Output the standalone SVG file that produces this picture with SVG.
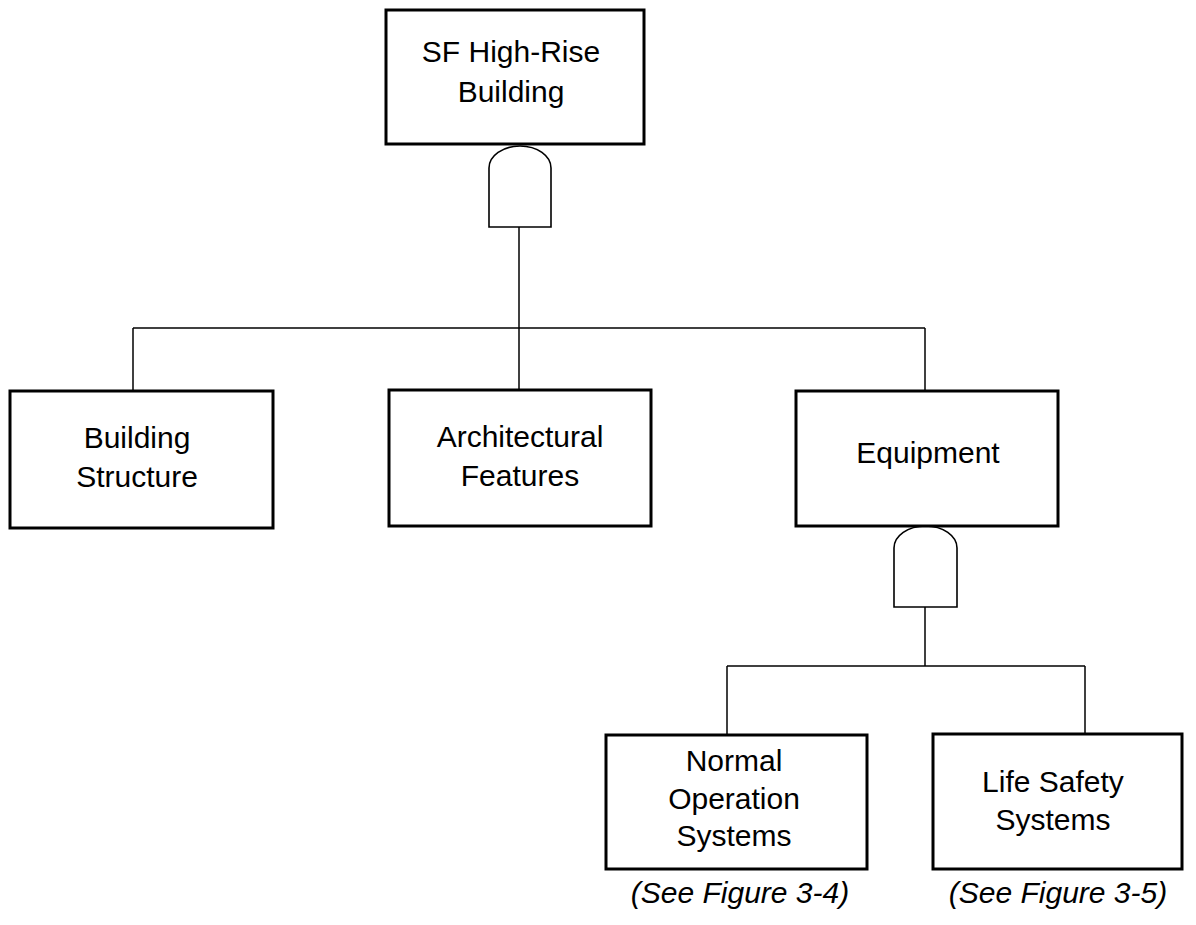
<svg xmlns="http://www.w3.org/2000/svg" width="1196" height="925" viewBox="0 0 1196 925">
<style>
.box{fill:#fff;stroke:#000;stroke-width:3}
.gate{fill:#fff;stroke:#000;stroke-width:1.6}
.wire{fill:none;stroke:#000;stroke-width:1.5}
text{font-family:"Liberation Sans",Arial,sans-serif;font-size:30px;fill:#000;text-anchor:middle}
.cap{font-style:italic}
</style>
<rect width="1196" height="925" fill="#fff"/>
<g id="connectors">
<path class="wire" d="M519,227 V389"/>
<path class="wire" d="M133,328 H925"/>
<path class="wire" d="M133,328 V390"/>
<path class="wire" d="M925,328 V391"/>
<path class="wire" d="M925,607 V666"/>
<path class="wire" d="M727,666 H1085"/>
<path class="wire" d="M727,666 V735"/>
<path class="wire" d="M1085,666 V733"/>
</g>
<g id="gate-top">
<path class="gate" d="M489,227 V168 A31,22 0 0 1 551,168 V227 Z"/>
</g>
<g id="gate-equipment">
<path class="gate" d="M894,607 V548 A31.5,22 0 0 1 957,548 V607 Z"/>
</g>
<g id="node-sf">
<rect class="box" x="386" y="10" width="258" height="134"/>
<text x="511" y="62">SF High-Rise</text>
<text x="511" y="102">Building</text>
</g>
<g id="node-structure">
<rect class="box" x="10" y="391" width="263" height="137"/>
<text x="137" y="448">Building</text>
<text x="137" y="487">Structure</text>
</g>
<g id="node-architectural">
<rect class="box" x="389" y="390" width="262" height="136"/>
<text x="520" y="447">Architectural</text>
<text x="520" y="486">Features</text>
</g>
<g id="node-equipment">
<rect class="box" x="796" y="391" width="262" height="135"/>
<text x="928" y="463">Equipment</text>
</g>
<g id="node-normal">
<rect class="box" x="606" y="735" width="261" height="134"/>
<text x="734" y="771">Normal</text>
<text x="734" y="809">Operation</text>
<text x="734" y="846">Systems</text>
</g>
<g id="node-lifesafety">
<rect class="box" x="933" y="734" width="249" height="135"/>
<text x="1053" y="792">Life Safety</text>
<text x="1053" y="830">Systems</text>
</g>
<g id="captions">
<text class="cap" x="740" y="903">(See Figure 3-4)</text>
<text class="cap" x="1058" y="903">(See Figure 3-5)</text>
</g>
</svg>
